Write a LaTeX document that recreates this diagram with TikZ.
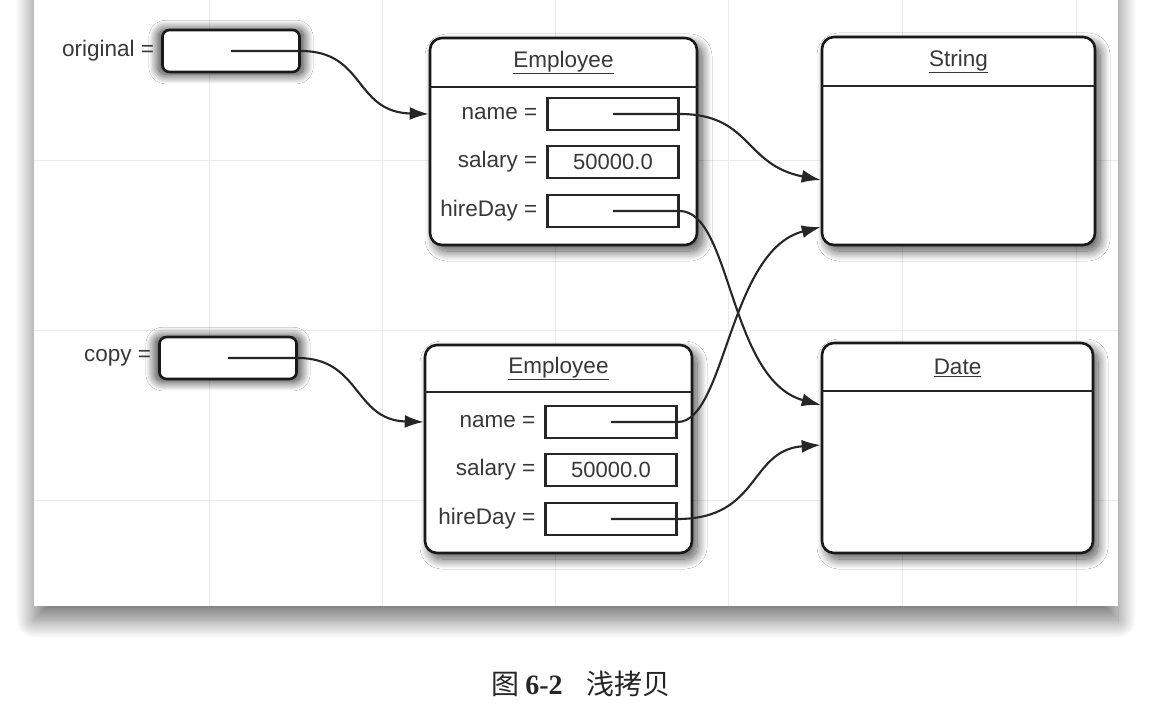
\documentclass[tikz,border=0pt]{standalone}
\usepackage{fontspec}
\setmainfont{Liberation Sans}
\newfontfamily\cjk{Noto Sans CJK SC}
\newfontfamily\capserif{Liberation Serif}
\usetikzlibrary{arrows.meta,shadows.blur,calc}

\tikzset{
    refbox/.style={draw=black!90, line width=2.6pt, rounded corners=7pt, fill=white,
        minimum width=137pt, minimum height=42pt,
        blur shadow={shadow xshift=0pt, shadow yshift=-1pt, shadow scale=1.06, shadow blur radius=9pt,
            shadow blur steps=30, shadow opacity=85}},
    objbox/.style={draw=black!90, line width=2.6pt, rounded corners=12pt, fill=white,
        blur shadow={shadow xshift=5pt, shadow yshift=-6pt, shadow blur radius=10pt,
            shadow blur steps=30, shadow opacity=70}},
    fieldbox/.style={draw=black!85, line width=2.2pt, minimum width=131pt, minimum height=32pt,
        inner sep=0pt, text=black!78, font=\fontsize{22}{26}\selectfont},
    lbl/.style={text=black!78, font=\fontsize{22.5}{26}\selectfont, inner sep=0pt},
    ptr/.style={line width=2.1pt, draw=black!85, -{Latex[length=19pt,width=13pt]}},
}

\begin{document}
\begin{tikzpicture}[x=1pt,y=-1pt]
        \useasboundingbox (0,0) rectangle (1169,727);
        \fill[white, blur shadow={shadow xshift=0pt, shadow yshift=-14pt, shadow scale=1.0, shadow blur radius=18pt,
                shadow blur steps=30, shadow opacity=55}]
            (34,-20) rectangle (1118,606);
        \foreach \x in {209,382,555,728,902,1076}
            \draw[black!8, line width=0.8pt] (\x,0) -- (\x,606);
        \foreach \y in {160,330,500}
            \draw[black!8, line width=0.8pt] (34,\y) -- (1118,\y);

        \node[refbox] (orig) at (231,51) {};
        \node[lbl, anchor=east] (origlbl) at ([xshift=-7pt]orig.west) {original =};
        \node[refbox] (copy) at (228,358) {};
        \node[lbl, anchor=east] (copylbl) at ([xshift=-7pt]copy.west) {copy =};

        \node[objbox, minimum width=267pt, minimum height=207pt] (emp1) at (563.5,141.5) {};
        \draw[line width=2.2pt, black!85] ($(emp1.north west)+(0,50)$) -- ($(emp1.north east)+(0,50)$);
        \node[lbl] (emp1t) at ($(emp1.north)+(0,26)$) {\underline{Employee}};
        \node[fieldbox] (nameA) at (613,114) {};
        \node[lbl, anchor=east] at ([xshift=-9pt]nameA.west) {name =};
        \node[fieldbox] (salA) at (613,162) {50000.0};
        \node[lbl, anchor=east] at ([xshift=-9pt]salA.west) {salary =};
        \node[fieldbox] (hireA) at (613,211) {};
        \node[lbl, anchor=east] at ([xshift=-9pt]hireA.west) {hireDay =};

        \node[objbox, minimum width=267pt, minimum height=208pt] (emp2) at (558.5,449) {};
        \draw[line width=2.2pt, black!85] ($(emp2.north west)+(0,48)$) -- ($(emp2.north east)+(0,48)$);
        \node[lbl] (emp2t) at ($(emp2.north)+(0,25)$) {\underline{Employee}};
        \node[fieldbox] (nameB) at (611,422) {};
        \node[lbl, anchor=east] at ([xshift=-9pt]nameB.west) {name =};
        \node[fieldbox] (salB) at (611,470) {50000.0};
        \node[lbl, anchor=east] at ([xshift=-9pt]salB.west) {salary =};
        \node[fieldbox] (hireB) at (611,519) {};
        \node[lbl, anchor=east] at ([xshift=-9pt]hireB.west) {hireDay =};

        \node[objbox, minimum width=273pt, minimum height=208pt] (str) at (958.5,141) {};
        \draw[line width=2.2pt, black!85] ($(str.north west)+(0,50)$) -- ($(str.north east)+(0,50)$);
        \node[lbl] (strt) at ($(str.north)+(0,26)$) {\underline{String}};

        \node[objbox, minimum width=271pt, minimum height=210pt] (date) at (957.5,448) {};
        \draw[line width=2.2pt, black!85] ($(date.north west)+(0,49)$) -- ($(date.north east)+(0,49)$);
        \node[lbl] (datet) at ($(date.north)+(0,26)$) {\underline{Date}};

        \draw[ptr] (orig.center) -- (orig.east) .. controls +(65,0) and +(-75,-2) .. (emp1.west |- nameA);
        \draw[ptr] (copy.center) -- (copy.east) .. controls +(63,0) and +(-70,-2) .. (emp2.west |- nameB);
        \draw[ptr] (nameA.center) -- (nameA.east) .. controls +(72,0) and +(-77,-15) .. ($(str.west)+(0,39)$);
        \draw[ptr] (hireA.center) -- (hireA.east) .. controls +(52,0) and +(-92,-25) .. ($(date.west)+(0,-43)$);
        \draw[ptr] (nameB.center) -- (nameB.east) .. controls +(48,0) and +(-92,23) .. ($(str.west)+(0,86)$);
        \draw[ptr] (hireB.center) -- (hireB.east) .. controls +(83,0) and +(-72,5) .. ($(date.west)+(0,-3)$);

        \node[text=black!85, font=\fontsize{28}{32}\selectfont] (cap) at (581,684)
            {{\cjk 图}\hspace{6pt}{\capserif\bfseries 6-2}\hspace{24pt}{\cjk 浅拷贝}};
\end{tikzpicture}
\end{document}
